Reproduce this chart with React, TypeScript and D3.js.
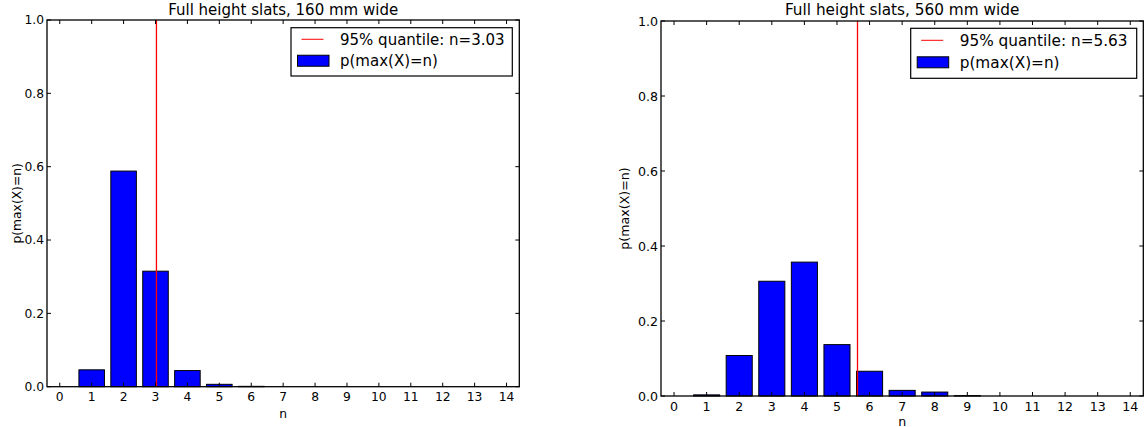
import React from "react";
import * as d3 from "d3";

const nValues = [0, 1, 2, 3, 4, 5, 6, 7, 8, 9, 10, 11, 12, 13, 14];
const probs160 = [0, 0.046, 0.588, 0.315, 0.044, 0.0065, 0.001, 0, 0, 0, 0, 0, 0, 0, 0];
const probs560 = [0, 0.003, 0.108, 0.306, 0.357, 0.137, 0.066, 0.015, 0.0105, 0.001, 0, 0, 0, 0, 0];
const yTicks = [0, 0.2, 0.4, 0.6, 0.8, 1.0];
const titles = ["Full height slats, 160 mm wide", "Full height slats, 560 mm wide"];
const quantiles = [3.03, 5.63];
const legendBar = "p(max(X)=n)";
const yLabel = "p(max(X)=n)";
const xLabel = "n";

const FONT = "DejaVu Sans, sans-serif";

type PanelProps = {
  left: number; right: number; top: number; bottom: number;
  values: number[]; q: number; title: string;
  legend: { x0: number; x1: number; y0: number; y1: number };
  fs: number; big: number; yLabelX: number; xLabelOff: number;
};

function Panel({ left, right, top, bottom, values, q, title, legend, fs, big, yLabelX, xLabelOff }: PanelProps) {
  const x = d3.scaleLinear().domain([-0.4, 14.4]).range([left, right]);
  const y = d3.scaleLinear().domain([0, 1]).range([bottom, top]);
  const bw = x(0.8) - x(0);
  const tl = 4;
  const lh = legend.y1 - legend.y0;
  return (
    <g>
      {nValues.map((n, i) => (
        <rect key={i} x={x(n - 0.4)} y={y(values[i])} width={bw} height={Math.max(0, y(0) - y(values[i]))}
          fill="#0000ff" stroke="#000" strokeWidth={1} />
      ))}
      <line x1={x(q)} x2={x(q)} y1={top} y2={bottom} stroke="#ff0000" strokeWidth={1.3} />
      <rect x={left} y={top} width={right - left} height={bottom - top} fill="none" stroke="#000" strokeWidth={1.3} />
      {nValues.map((n) => (
        <g key={"xt" + n}>
          <line x1={x(n)} x2={x(n)} y1={bottom} y2={bottom - tl} stroke="#000" />
          <line x1={x(n)} x2={x(n)} y1={top} y2={top + tl} stroke="#000" />
          <text x={x(n)} y={bottom + 14.5} textAnchor="middle" fontSize={fs} fontFamily={FONT}>{n}</text>
        </g>
      ))}
      {yTicks.map((t) => (
        <g key={"yt" + t}>
          <line x1={left} x2={left + tl} y1={y(t)} y2={y(t)} stroke="#000" />
          <line x1={right} x2={right - tl} y1={y(t)} y2={y(t)} stroke="#000" />
          <text x={left - 3} y={y(t) + fs * 0.36} textAnchor="end" fontSize={fs} fontFamily={FONT}>{t.toFixed(1)}</text>
        </g>
      ))}
      <text x={(left + right) / 2} y={15} textAnchor="middle" fontSize={big} fontFamily={FONT}>{title}</text>
      <text x={(left + right) / 2} y={bottom + xLabelOff} textAnchor="middle" fontSize={fs} fontFamily={FONT}>{xLabel}</text>
      <text transform={`translate(${yLabelX},${(top + bottom) / 2}) rotate(-90)`} textAnchor="middle" fontSize={fs} fontFamily={FONT}>{yLabel}</text>
      <rect x={legend.x0} y={legend.y0} width={legend.x1 - legend.x0} height={lh} fill="#fff" stroke="#000" strokeWidth={1.2} />
      <line x1={legend.x0 + 10.5} x2={legend.x0 + 32.5} y1={legend.y0 + lh * 0.24} y2={legend.y0 + lh * 0.24} stroke="#ff0000" strokeWidth={1} />
      <text x={legend.x0 + 49} y={legend.y0 + lh * 0.24 + 5.5} fontSize={big} fontFamily={FONT}>{`95% quantile: n=${q.toFixed(2)}`}</text>
      <rect x={legend.x0 + 6.5} y={legend.y0 + lh * 0.57} width={31.5} height={11} fill="#0000ff" stroke="#000" strokeWidth={1} />
      <text x={legend.x0 + 49} y={legend.y0 + lh * 0.57 + 11} fontSize={big} fontFamily={FONT}>{legendBar}</text>
    </g>
  );
}

export default function App() {
  return (
    <svg width={1145} height={427} style={{ position: "absolute", left: 0, top: 0, background: "#fff" }}>
      <rect x={0} y={0} width={1145} height={427} fill="#fff" />
      <Panel left={47} right={519.3} top={20} bottom={386.7} values={probs160} q={quantiles[0]} title={titles[0]}
        legend={{ x0: 291, x1: 512.3, y0: 27.7, y1: 76 }} fs={12.3} big={15} yLabelX={21} xLabelOff={31} />
      <Panel left={661} right={1143.3} top={21} bottom={396} values={probs560} q={quantiles[1]} title={titles[1]}
        legend={{ x0: 910.7, x1: 1136.7, y0: 28.3, y1: 78.3 }} fs={12.6} big={15.3} yLabelX={629} xLabelOff={29.5} />
    </svg>
  );
}
